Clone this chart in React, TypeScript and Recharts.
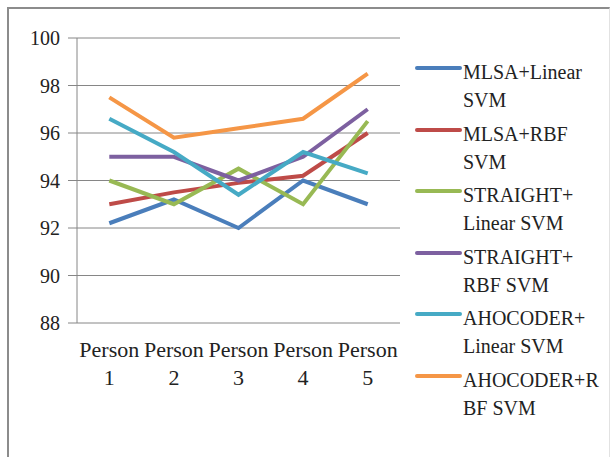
import { CartesianGrid, Line, LineChart, XAxis, YAxis } from "recharts";

const PERSONS = ["Person 1", "Person 2", "Person 3", "Person 4", "Person 5"];

const MLSA_LINEAR = [92.2, 93.2, 92.0, 94.0, 93.0];
const MLSA_RBF = [93.0, 93.5, 93.9, 94.2, 96.0];
const STRAIGHT_LINEAR = [94.0, 93.0, 94.5, 93.0, 96.5];
const STRAIGHT_RBF = [95.0, 95.0, 94.0, 95.0, 97.0];
const AHOCODER_LINEAR = [96.6, 95.2, 93.4, 95.2, 94.3];
const AHOCODER_RBF = [97.5, 95.8, 96.2, 96.6, 98.5];

const Y_TICKS = [88, 90, 92, 94, 96, 98, 100];

const SERIES = [
  { key: "mlsaLinear", name: "MLSA+Linear SVM", lines: ["MLSA+Linear", "SVM"], color: "#4A7EBB", values: MLSA_LINEAR },
  { key: "mlsaRbf", name: "MLSA+RBF SVM", lines: ["MLSA+RBF", "SVM"], color: "#BE4B48", values: MLSA_RBF },
  { key: "straightLinear", name: "STRAIGHT+ Linear SVM", lines: ["STRAIGHT+", "Linear SVM"], color: "#98B954", values: STRAIGHT_LINEAR },
  { key: "straightRbf", name: "STRAIGHT+ RBF SVM", lines: ["STRAIGHT+", "RBF SVM"], color: "#7D60A0", values: STRAIGHT_RBF },
  { key: "ahoLinear", name: "AHOCODER+ Linear SVM", lines: ["AHOCODER+", "Linear SVM"], color: "#46AAC5", values: AHOCODER_LINEAR },
  { key: "ahoRbf", name: "AHOCODER+RBF SVM", lines: ["AHOCODER+R", "BF SVM"], color: "#F59646", values: AHOCODER_RBF },
];

const data = PERSONS.map((name, i) => {
  const row: Record<string, string | number> = { name, idx: i };
  SERIES.forEach((s) => {
    row[s.key] = s.values[i];
  });
  return row;
});

const FONT = "Liberation Serif";
const GRID = "#868686";

function PersonTick({ x, y, payload }: { x?: number; y?: number; payload?: { value: string } }) {
  const parts = (payload?.value ?? "").split(" ");
  return (
    <text x={x} y={y} textAnchor="middle" fontFamily={FONT} fontSize={22} fill="#222">
      <tspan x={x} dy={34}>{parts[0]}</tspan>
      <tspan x={x} dy={28}>{parts[1]}</tspan>
    </text>
  );
}

export default function App() {
  return (
    <div style={{ position: "absolute", left: 0, top: 0, width: 614, height: 457, background: "#fff", overflow: "hidden", fontFamily: FONT }}>
      {/* frame */}
      <div
        style={{
          position: "absolute",
          left: 7,
          top: 7,
          width: 600,
          height: 470,
          borderLeft: "2px solid #8c8c8c",
          borderTop: "2px solid #8c8c8c",
          borderRight: "1px solid #e2e2e2",
        }}
      />
      <LineChart
        width={614}
        height={457}
        data={data}
        margin={{ top: 38, right: 214, left: 0, bottom: 74 }}
        style={{ position: "absolute", left: 0, top: 0 }}
      >
        <CartesianGrid stroke={GRID} vertical={false} />
        <XAxis
          xAxisId="marks"
          dataKey="idx"
          type="number"
          domain={[-0.5, 4.5]}
          ticks={[-0.5, 0.5, 1.5, 2.5, 3.5, 4.5]}
          tick={false}
          tickSize={6}
          height={0}
          axisLine={{ stroke: GRID }}
          tickLine={{ stroke: GRID }}
        />
        <XAxis
          xAxisId="cat"
          dataKey="name"
          scale="band"
          axisLine={false}
          tickLine={false}
          tickSize={0}
          tickMargin={0}
          height={60}
          interval={0}
          tick={<PersonTick />}
        />
        <YAxis
          domain={[88, 100]}
          ticks={Y_TICKS}
          width={77}
          tickSize={9}
          tickMargin={8}
          axisLine={{ stroke: GRID }}
          tickLine={{ stroke: GRID }}
          tick={{ fontFamily: FONT, fontSize: 20, fill: "#222" }}
        />
        {SERIES.map((s) => (
          <Line
            key={s.key}
            xAxisId="cat"
            dataKey={s.key}
            name={s.name}
            type="linear"
            stroke={s.color}
            strokeWidth={4}
            dot={false}
            activeDot={false}
            isAnimationActive={false}
          />
        ))}
      </LineChart>
      {/* legend */}
      <div style={{ position: "absolute", left: 415, top: 58, fontFamily: FONT, fontSize: 20, color: "#222" }}>
        {SERIES.map((s) => (
          <div key={s.key} style={{ position: "relative", height: 61.5 }}>
            <div style={{ position: "absolute", left: 0, top: 8, width: 47, height: 4, background: s.color, borderRadius: 2 }} />
            <div style={{ position: "absolute", left: 48, top: 0, lineHeight: "28px", whiteSpace: "nowrap" }}>
              {s.lines.map((l) => (
                <div key={l}>{l}</div>
              ))}
            </div>
          </div>
        ))}
      </div>
    </div>
  );
}
